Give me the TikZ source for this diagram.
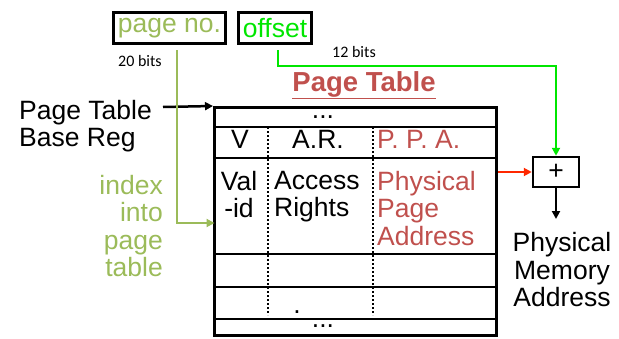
\documentclass[tikz,border=0pt]{standalone}
\usepackage{fontspec}
\setmainfont{Liberation Sans}
\newfontfamily\bitsfont{Carlito}
\usetikzlibrary{arrows.meta,positioning,calc}
\definecolor{ptolive}{RGB}{155,187,89}
\definecolor{ptgreen}{RGB}{0,230,0}
\definecolor{ptred}{RGB}{192,80,77}
\definecolor{ptarrow}{RGB}{255,40,0}

\begin{document}
\begin{tikzpicture}[x=1pt,y=-1pt,
  big/.style={font=\fontsize{26.5}{27.5}\selectfont,inner sep=0pt},
  bits/.style={font=\bitsfont\fontsize{16}{18}\selectfont,inner sep=0pt},
  field/.style={draw=black,line width=3pt,inner sep=0pt,font=\fontsize{26.5}{27.5}\selectfont},
  arr/.style={-{Triangle[length=8pt,width=8pt]},line width=2.5pt}]
\useasboundingbox (0,0) rectangle (619,338);
% address fields
\node[field,text=ptolive,minimum width=112pt,minimum height=31pt] (pno) at (169.5,28) {page no.};
\node[field,text=ptgreen,minimum width=73pt,minimum height=31pt] (off) at (275,28) {offset};
\node[bits] (b20) at (140,61) {20 bits};
\node[bits] (b12) at (354,52) {12 bits};
% page table
\node[inner sep=0pt,font=\fontsize{27.5}{28}\selectfont\bfseries,text=ptred] (title) at (364,85) {\underline{Page Table}};
\node[draw,line width=3pt,minimum width=282pt,minimum height=228pt,inner sep=0pt] (tbl) at (355.5,221.5) {};
\foreach \y in {127,158,254,287,319} \draw[line width=2pt] (tbl.west |- 0,\y) -- (tbl.east |- 0,\y);
\foreach \x in {268,373} \draw[line width=1.8pt,dash pattern=on 1.8pt off 2.2pt] (\x,127) -- (\x,315);
\node[big] (dtop) at (323,117) {...};
\node[big] (hv) at (240,139) {V};
\node[big] (har) at (318,139) {A.R.};
\node[big,text=ptred,anchor=west] (hppa) at (377,139) {P. P. A.};
\node[big,align=center,anchor=north] (valid) at (239,171) {Val\\-id};
\node[big,align=left,anchor=north west] (rights) at (274,171) {Access\\Rights};
\node[big,align=left,anchor=north west,text=ptred] (ppa) at (377,171) {Physical\\Page\\Address};
\node[big] (dmid) at (297,312) {.};
\node[big] (dbot) at (323,326) {...};
% labels
\node[big,align=left,anchor=west] (base) at (19,126) {Page Table\\Base Reg};
\node[big,align=right,anchor=east,text=ptolive] (index) at (163,226) {index\\into\\page\\table};
\node[draw,line width=2.5pt,minimum width=46pt,minimum height=30pt,inner sep=0pt,font=\fontsize{26.5}{27.5}\selectfont] (add) at (556,172) {+};
\node[big,align=center] (phys) at (562,270) {Physical\\Memory\\Address};
\coordinate (basetail) at (163,107);
\coordinate (idx) at (214.5,223);
\coordinate (bend) at (553,66);
\coordinate (pmatip) at (556,219);
% connectors
\draw[arr] (basetail) -- (tbl.north west);
\draw[arr,ptolive,shorten <=5pt] ([xshift=7.5pt]pno.south) |- (idx);
\draw[arr,ptgreen,shorten <=5pt] ([xshift=3pt]off.south) |- (add.north |- bend) -- (add.north);
\draw[arr,ptarrow] (tbl.east |- add.west) -- (add.west);
\draw[arr] (add.south) -- (pmatip);
\end{tikzpicture}
\end{document}
